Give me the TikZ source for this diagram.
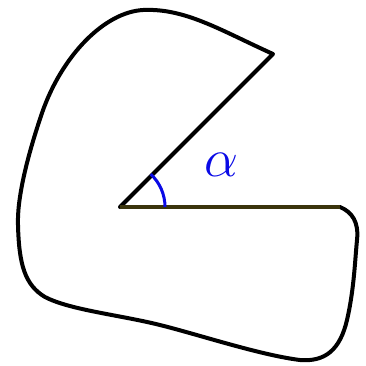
\documentclass[tikz,border=0pt]{standalone}
\usepackage{fix-cm}
\usepackage{amsmath}
\usetikzlibrary{calc}
\definecolor{olivedark}{RGB}{58,52,12}
\definecolor{angleblue}{RGB}{10,10,230}
\tikzset{
  outline/.style={line width=4pt,black,line join=round,line cap=round},
  baseline/.style={line width=4pt,olivedark},
  anglearc/.style={line width=3pt,angleblue},
  anglelbl/.style={text=angleblue,font=\fontsize{54}{56}\selectfont}
}
\begin{document}
\begin{tikzpicture}[x=1pt,y=-1pt]
  \useasboundingbox (0,0) rectangle (366,365);
  % corner points
  \coordinate (O) at (120,207);
  \coordinate (A) at (273,54);
  \coordinate (B) at (340,207);

  % outer contour
  \draw[outline] (O) -- (A)
    .. controls (220,30) and (185,8) .. (143,10)
    .. controls (105,12) and (62,55) .. (42,113)
    .. controls (26,160) and (17,200) .. (18,225)
    .. controls (19,265) and (25,285) .. (45,297)
    .. controls (70,310) and (120,315) .. (160,325)
    .. controls (200,335) and (260,355) .. (300,360)
    .. controls (325,362) and (340,350) .. (347,320)
    .. controls (354,290) and (355,260) .. (357,240)
    .. controls (359,222) and (352,212) .. (B);

  % horizontal side
  \draw[baseline] (O) -- (B);

  % angle
  \draw[anglearc] ($(O)+(45,0)$) arc[start angle=0,end angle=-47,radius=45];
  \node[anglelbl] (alpha) at (221,165) {$\alpha$};
\end{tikzpicture}
\end{document}
